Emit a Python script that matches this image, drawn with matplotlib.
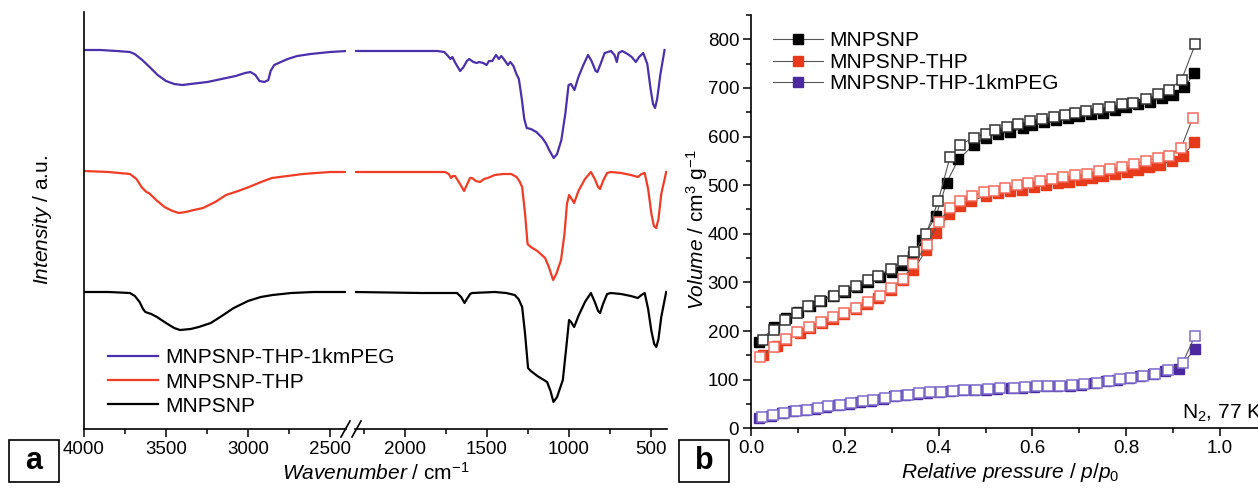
import matplotlib
matplotlib.use("Agg")
import matplotlib.pyplot as plt
from matplotlib.lines import Line2D
from matplotlib.patches import Rectangle
from matplotlib.ticker import MultipleLocator

plt.rcParams.update({
    "font.family": "Liberation Sans",
    "mathtext.fontset": "custom",
    "mathtext.rm": "Liberation Sans",
    "mathtext.it": "Liberation Sans:italic",
    "mathtext.bf": "Liberation Sans:bold",
    "axes.linewidth": 1.2,
})

# ---- (a) IR spectra: wavenumber (cm-1) and offset intensity (a.u.) ----
wn_peg = [4000, 3900, 3800, 3720, 3691, 3645, 3600, 3551, 3500, 3450, 3400, 3350, 3300, 3248,
          3190, 3133, 3075, 3018, 2985, 2955, 2930, 2900, 2876, 2862, 2840, 2800, 2758, 2700,
          2618, 2500, 2400, 2300, 2000, 1800, 1758, 1735, 1720, 1708, 1690, 1661, 1640, 1620,
          1606, 1580, 1560, 1545, 1520, 1500, 1485, 1465, 1450, 1442, 1425, 1410, 1395, 1370,
          1355, 1336, 1318, 1303, 1285, 1270, 1255, 1230, 1196, 1160, 1139, 1115, 1091, 1070,
          1044, 1020, 1000, 985, 964, 940, 910, 881, 860, 835, 824, 805, 780, 741, 720, 706,
          695, 673, 640, 615, 590, 570, 545, 520, 500, 485, 473, 460, 440, 415]
int_peg = [3.79, 3.79, 3.78, 3.77, 3.75, 3.69, 3.62, 3.54, 3.48, 3.45, 3.44, 3.45, 3.46, 3.47,
           3.49, 3.51, 3.53, 3.56, 3.57, 3.54, 3.48, 3.47, 3.49, 3.58, 3.64, 3.67, 3.70, 3.73,
           3.75, 3.77, 3.78, 3.78, 3.78, 3.78, 3.77, 3.73, 3.70, 3.72, 3.66, 3.58, 3.62, 3.68,
           3.70, 3.67, 3.66, 3.67, 3.66, 3.64, 3.68, 3.68, 3.72, 3.74, 3.70, 3.73, 3.70, 3.64,
           3.67, 3.63, 3.55, 3.50, 3.30, 3.10, 3.01, 3.00, 2.97, 2.91, 2.86, 2.78, 2.71, 2.75,
           2.89, 3.15, 3.44, 3.45, 3.39, 3.52, 3.64, 3.74, 3.68, 3.58, 3.57, 3.65, 3.76, 3.78,
           3.74, 3.67, 3.76, 3.78, 3.75, 3.72, 3.67, 3.72, 3.76, 3.65, 3.40, 3.25, 3.21, 3.30,
           3.55, 3.79]

wn_thp = [4000, 3850, 3720, 3680, 3649, 3620, 3604, 3560, 3509, 3460, 3421, 3380, 3330, 3274,
          3200, 3134, 3060, 2994, 2920, 2854, 2760, 2665, 2500, 2300, 1800, 1753, 1730, 1716,
          1705, 1692, 1665, 1637, 1615, 1600, 1588, 1565, 1539, 1515, 1493, 1450, 1400, 1350,
          1317, 1300, 1283, 1265, 1250, 1230, 1190, 1143, 1120, 1094, 1075, 1046, 1025, 1010,
          997, 985, 966, 940, 900, 864, 840, 820, 808, 790, 765, 742, 680, 620, 578, 555, 536,
          515, 495, 480, 466, 452, 435, 405]
int_thp = [2.58, 2.57, 2.55, 2.50, 2.42, 2.37, 2.36, 2.29, 2.22, 2.18, 2.16, 2.17, 2.19, 2.21,
           2.27, 2.34, 2.38, 2.42, 2.47, 2.51, 2.53, 2.55, 2.57, 2.57, 2.57, 2.57, 2.55, 2.51,
           2.53, 2.53, 2.46, 2.38, 2.46, 2.51, 2.51, 2.48, 2.47, 2.50, 2.51, 2.54, 2.55, 2.55,
           2.52, 2.48, 2.42, 2.15, 1.85, 1.82, 1.78, 1.71, 1.62, 1.49, 1.55, 1.69, 1.95, 2.25,
           2.34, 2.31, 2.26, 2.38, 2.50, 2.57, 2.50, 2.42, 2.40, 2.48, 2.56, 2.57, 2.56, 2.54,
           2.52, 2.55, 2.56, 2.40, 2.15, 2.03, 2.01, 2.10, 2.35, 2.57]

wn_mnp = [4000, 3850, 3720, 3690, 3661, 3640, 3626, 3590, 3555, 3500, 3450, 3415, 3350, 3300,
          3227, 3160, 3087, 3000, 2922, 2850, 2735, 2600, 2400, 2300, 1900, 1700, 1680, 1655,
          1634, 1620, 1600, 1588, 1450, 1380, 1329, 1305, 1283, 1265, 1247, 1230, 1190, 1131,
          1110, 1092, 1070, 1035, 1015, 997, 985, 966, 940, 900, 864, 840, 820, 808, 790, 765,
          742, 680, 620, 578, 555, 536, 515, 495, 478, 465, 452, 435, 405]
int_mnp = [1.37, 1.37, 1.36, 1.33, 1.27, 1.20, 1.17, 1.15, 1.12, 1.06, 1.01, 0.99, 1.00, 1.02,
           1.06, 1.13, 1.21, 1.28, 1.32, 1.34, 1.36, 1.37, 1.37, 1.37, 1.36, 1.36, 1.36, 1.32,
           1.26, 1.30, 1.35, 1.36, 1.37, 1.36, 1.34, 1.30, 1.22, 0.95, 0.61, 0.58, 0.53, 0.47,
           0.38, 0.27, 0.32, 0.49, 0.80, 1.09, 1.07, 1.02, 1.13, 1.27, 1.36, 1.27, 1.18, 1.16,
           1.25, 1.35, 1.36, 1.35, 1.33, 1.31, 1.34, 1.36, 1.20, 0.98, 0.85, 0.82, 0.90, 1.12,
           1.37]

ir_labels = ["MNPSNP-THP-1kmPEG", "MNPSNP-THP", "MNPSNP"]

# ---- (b) N2 isotherms: relative pressure and volume (cm3 g-1) ----
p_ads_mnp = [0.017, 0.05, 0.075, 0.10, 0.125, 0.15, 0.175, 0.20, 0.225, 0.25, 0.275, 0.30, 0.325,
             0.346, 0.364, 0.394, 0.417, 0.442, 0.475, 0.50, 0.527, 0.553, 0.58, 0.60, 0.625,
             0.65, 0.675, 0.70, 0.725, 0.75, 0.776, 0.80, 0.826, 0.851, 0.876, 0.90, 0.923, 0.945]
v_ads_mnp = [177, 208, 226, 240, 252, 262, 272, 281, 291, 301, 311, 322, 335, 354, 388, 436, 505,
             553, 583, 598, 605, 610, 617, 624, 630, 635, 639, 642, 646, 649, 655, 660, 666, 671,
             679, 686, 701, 730]
p_des_mnp = [0.026, 0.048, 0.072, 0.097, 0.122, 0.147, 0.176, 0.199, 0.224, 0.249, 0.271, 0.298,
             0.323, 0.348, 0.373, 0.399, 0.424, 0.446, 0.475, 0.50, 0.52, 0.545, 0.57, 0.595,
             0.62, 0.645, 0.67, 0.69, 0.715, 0.74, 0.765, 0.79, 0.815, 0.843, 0.868, 0.891,
             0.918, 0.947]
v_des_mnp = [182, 203, 223, 237, 251, 261, 273, 282, 293, 304, 314, 328, 344, 363, 399, 467, 557,
             583, 598, 606, 614, 620, 626, 632, 637, 641, 645, 648, 652, 657, 661, 666, 670, 677,
             687, 696, 717, 790]

p_ads_thp = [0.026, 0.055, 0.074, 0.104, 0.126, 0.151, 0.174, 0.198, 0.224, 0.248, 0.271, 0.298,
             0.323, 0.346, 0.373, 0.394, 0.422, 0.446, 0.469, 0.50, 0.527, 0.552, 0.577, 0.603,
             0.628, 0.654, 0.678, 0.703, 0.726, 0.751, 0.776, 0.801, 0.826, 0.849, 0.872, 0.897,
             0.920, 0.945]
v_ads_thp = [151, 170, 182, 197, 206, 216, 225, 236, 245, 256, 269, 285, 304, 325, 366, 401, 440,
             457, 467, 478, 483, 488, 491, 496, 500, 505, 507, 510, 514, 519, 522, 527, 531, 537,
             542, 550, 560, 588]
p_des_thp = [0.019, 0.048, 0.075, 0.099, 0.124, 0.149, 0.174, 0.199, 0.224, 0.249, 0.274, 0.299,
             0.324, 0.346, 0.375, 0.40, 0.424, 0.446, 0.471, 0.496, 0.517, 0.542, 0.567, 0.591,
             0.616, 0.641, 0.666, 0.691, 0.716, 0.741, 0.765, 0.79, 0.817, 0.842, 0.867, 0.891,
             0.917, 0.942]
v_des_thp = [146, 168, 184, 198, 208, 218, 228, 238, 248, 259, 272, 288, 308, 337, 377, 424, 454,
             467, 478, 485, 488, 495, 500, 505, 508, 513, 517, 520, 524, 529, 533, 537, 543, 550,
             555, 561, 577, 639]

p_ads_peg = [0.018, 0.042, 0.066, 0.09, 0.114, 0.137, 0.16, 0.185, 0.209, 0.233, 0.256, 0.281,
             0.305, 0.329, 0.353, 0.376, 0.401, 0.425, 0.45, 0.475, 0.5, 0.525, 0.554, 0.578,
             0.603, 0.628, 0.653, 0.679, 0.704, 0.731, 0.757, 0.781, 0.805, 0.83, 0.856, 0.882,
             0.912, 0.946]
v_ads_peg = [22, 26, 31, 35, 37, 40, 44, 47, 51, 55, 57, 61, 66, 68, 71, 73, 74, 76, 78, 78, 79,
             81, 82, 83, 85, 86, 87, 88, 90, 93, 97, 100, 103, 107, 111, 117, 122, 163]
p_des_peg = [0.023, 0.047, 0.071, 0.095, 0.119, 0.142, 0.165, 0.19, 0.214, 0.238, 0.261, 0.286,
             0.31, 0.334, 0.358, 0.381, 0.406, 0.43, 0.455, 0.48, 0.505, 0.53, 0.56, 0.584,
             0.609, 0.634, 0.659, 0.685, 0.71, 0.737, 0.763, 0.787, 0.811, 0.836, 0.862, 0.888,
             0.92, 0.946]
v_des_peg = [23, 27, 32, 36, 38, 41, 45, 48, 52, 56, 58, 62, 67, 69, 72, 74, 75, 77, 79, 79, 80,
             82, 83, 84, 86, 87, 88, 89, 91, 94, 98, 101, 104, 108, 112, 119, 134, 189]

iso_labels = ["MNPSNP", "MNPSNP-THP", "MNPSNP-THP-1kmPEG"]

W, H = 1258, 495


def px_box(l, t, r, b):
    return [l / W, 1 - b / H, (r - l) / W, (b - t) / H]


def fx(x):
    return x / W


def fy(y):
    return 1 - y / H


fig = plt.figure(figsize=(W / 100, H / 100), dpi=100)

ax1 = fig.add_axes(px_box(84, 12, 346.4, 429))
ax2 = fig.add_axes(px_box(355.3, 12, 667, 429), sharey=ax1)
ax3 = fig.add_axes(px_box(751, 15, 1267, 428.3))

ir_colors = ["#4b30ab", "#f03c24", "black"]
ir_data = [(wn_peg, int_peg), (wn_thp, int_thp), (wn_mnp, int_mnp)]
for (wn, it), c, lab in zip(ir_data, ir_colors, ir_labels):
    ax1.plot(wn, it, color=c, lw=1.6, label=lab)
    ax2.plot(wn, it, color=c, lw=1.6)

ax1.set_xlim(4000, 2400)
ax2.set_xlim(2300, 400)
ax1.set_ylim(0, 4.17)
ax1.set_xticks([4000, 3500, 3000, 2500])
ax1.xaxis.set_minor_locator(MultipleLocator(250))
ax2.set_xticks([2000, 1500, 1000, 500])
ax2.xaxis.set_minor_locator(MultipleLocator(250))
for ax in (ax1, ax2):
    ax.spines["top"].set_visible(False)
    ax.spines["right"].set_visible(False)
    ax.tick_params(axis="x", which="major", direction="out", length=6, width=1.1, labelsize=13.5, pad=2.5)
    ax.tick_params(axis="x", which="minor", direction="out", length=3.5, width=1.1)
    ax.tick_params(axis="y", left=False, labelleft=False)
ax2.spines["left"].set_visible(False)

# axis break marks
for x0 in (341, 352):
    fig.add_artist(Line2D([fx(x0), fx(x0 + 9)], [fy(437), fy(421)], color="black", lw=1.2,
                          transform=fig.transFigure))

fig.legend(loc="upper left", bbox_to_anchor=(fx(100), fy(340)), frameon=False, fontsize=15,
           handlelength=2.4, handletextpad=0.35, labelspacing=0.25, borderaxespad=0)

fig.text(fx(376), fy(473), r"$\mathit{Wavenumber}$ / cm$^{-1}$", fontsize=15, ha="center", va="center")
fig.text(fx(42), fy(220), r"$\mathit{Intensity}$ / a.u.", fontsize=15, ha="center", va="center", rotation=90)

# ---- panel b ----
iso = [
    (p_ads_mnp, v_ads_mnp, p_des_mnp, v_des_mnp, "black", "#333333"),
    (p_ads_thp, v_ads_thp, p_des_thp, v_des_thp, "#e63a1a", "#f26a5c"),
    (p_ads_peg, v_ads_peg, p_des_peg, v_des_peg, "#4a2a9e", "#7d6ccc"),
]
handles = []
for pa, va, pd, vd, fc, ec in iso:
    ax3.plot(pa, va, color="#555555", lw=0.8, marker="s", ms=7.5, mfc=fc, mec=fc, mew=1)
    ax3.plot(pd, vd, color="#555555", lw=0.8, marker="s", ms=7.5, mfc="white", mec=ec, mew=1.1)
    handles.append(Line2D([], [], color="#555555", lw=0.8, marker="s", ms=7.5, mfc=fc, mec=fc))

ax3.set_xlim(0, 1.1)
ax3.set_ylim(0, 850)
ax3.set_xticks([0.0, 0.2, 0.4, 0.6, 0.8, 1.0])
ax3.set_xticklabels(["0.0", "0.2", "0.4", "0.6", "0.8", "1.0"])
ax3.xaxis.set_minor_locator(MultipleLocator(0.1))
ax3.set_yticks(range(0, 801, 100))
ax3.yaxis.set_minor_locator(MultipleLocator(50))
ax3.spines["top"].set_visible(False)
ax3.spines["right"].set_visible(False)
ax3.tick_params(which="major", direction="out", length=6, width=1.1, labelsize=13.5, pad=2.5)
ax3.tick_params(which="minor", direction="out", length=3.5, width=1.1)

ax3.legend(handles, iso_labels, loc="upper left", bbox_to_anchor=(fx(765), fy(23)),
           bbox_transform=fig.transFigure, frameon=False, fontsize=15, handlelength=2.4,
           handletextpad=0.3, labelspacing=0.12, borderaxespad=0)
ax3.text(0.919, 20, r"N$_2$, 77 K", fontsize=15)

fig.text(fx(1010), fy(473), r"$\mathit{Relative\ pressure}$ / $\mathit{p/p}_0$", fontsize=15,
         ha="center", va="center")
fig.text(fx(697), fy(230), r"$\mathit{Volume}$ / cm$^3$ g$^{-1}$", fontsize=15, ha="center",
         va="center", rotation=90)

# panel letters
for (l, t, r, b), letter in (((9, 440, 59, 482), "a"), ((679, 440, 729, 482), "b")):
    fig.add_artist(Rectangle((fx(l), fy(b)), fx(r - l), (b - t) / H, transform=fig.transFigure,
                             fill=False, edgecolor="black", lw=1.2))
    fig.text(fx((l + r) / 2), fy((t + b) / 2), letter, fontsize=22, fontweight="bold",
             ha="center", va="center")

fig.savefig("out.png", dpi=100)
